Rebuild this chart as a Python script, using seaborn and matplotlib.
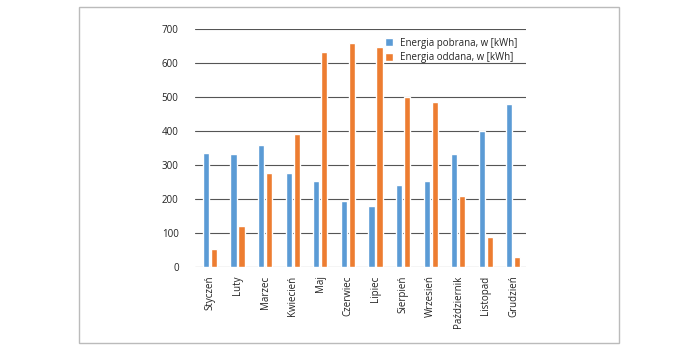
import pandas as pd
import seaborn as sns
import matplotlib.pyplot as plt
from matplotlib.patches import Rectangle

months = ['Styczeń', 'Luty', 'Marzec', 'Kwiecień', 'Maj', 'Czerwiec',
          'Lipiec', 'Sierpień', 'Wrzesień', 'Październik', 'Listopad', 'Grudzień']
pobrana = [335, 333, 360, 278, 253, 193, 181, 240, 252, 332, 399, 480]
oddana = [52, 122, 278, 390, 633, 660, 647, 500, 484, 210, 88, 30]
series = ['Energia pobrana, w [kWh]', 'Energia oddana, w [kWh]']

df = pd.DataFrame({
    'miesiac': months * 2,
    'energia': pobrana + oddana,
    'seria': [series[0]] * 12 + [series[1]] * 12,
})

sns.set_style('white')
plt.rcParams['font.family'] = ['Open Sans', 'DejaVu Sans']

fig = plt.figure(figsize=(7, 3.5), dpi=100)
ax = fig.add_axes([0.279, 0.237, 0.473, 0.68])

sns.barplot(data=df, x='miesiac', y='energia', hue='seria', order=months,
            palette=['#5b9bd5', '#ed7d31'], width=0.58, gap=0.24,
            saturation=1, ax=ax, zorder=3)

ax.set_ylim(0, 700)
ax.set_xlim(-0.53, 11.47)
ax.set_yticks(range(0, 701, 100))
ax.yaxis.grid(True, color='#555555', linewidth=0.8, zorder=0)
ax.set_axisbelow(True)
sns.despine(ax=ax, left=True, bottom=True, top=True, right=True)
ax.set_xlabel('')
ax.set_ylabel('')
ax.tick_params(axis='x', labelsize=7, rotation=90, length=0, pad=6, colors='#222222')
ax.tick_params(axis='y', labelsize=7, length=0, pad=12, colors='#222222')

ax.legend(loc='upper right', bbox_to_anchor=(1.0, 1.0), frameon=False, fontsize=7,
          handlelength=0.9, handleheight=0.9, handletextpad=0.7, labelspacing=0.35)

fig.patches.append(Rectangle((79 / 700, 7 / 350), 540 / 700, 336 / 350,
                             transform=fig.transFigure, fill=False,
                             edgecolor='#bbbbbb', linewidth=1))

fig.savefig('out.png', dpi=100)
